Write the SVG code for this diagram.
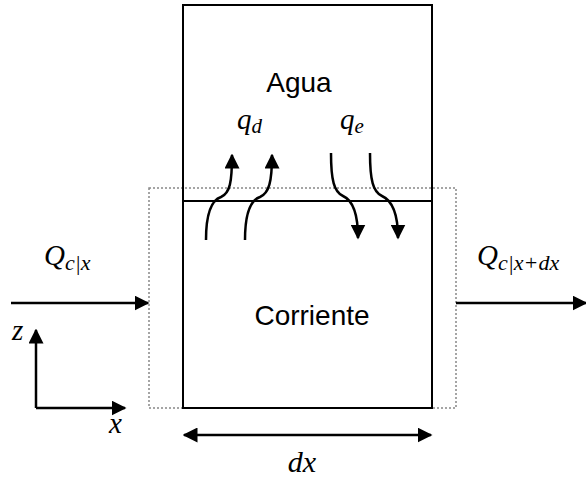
<svg xmlns="http://www.w3.org/2000/svg" width="586" height="481" viewBox="0 0 586 481">
<defs>
<marker id="ahb" viewBox="0 0 10 10" refX="9" refY="5" markerWidth="15" markerHeight="15" markerUnits="userSpaceOnUse" orient="auto-start-reverse">
<path d="M0,0 L10,5 L0,10 z" fill="#000"/>
</marker>
</defs>
<style>
.box{fill:none;stroke:#000;stroke-width:2}
.dot{fill:none;stroke:#888;stroke-width:1.5;stroke-dasharray:2 2}
.ln{fill:none;stroke:#000;stroke-width:2.5;marker-end:url(#ahb)}
.lbl{font-family:"Liberation Sans",Arial,sans-serif;font-size:28px;fill:#000}
.m{font-family:"Liberation Serif","DejaVu Serif",serif;font-style:italic;fill:#000}
</style>
<rect width="586" height="481" fill="#fff"/>
<g id="control-volume">
<rect class="dot" x="149" y="188" width="307" height="220"/>
</g>
<g id="agua">
<rect class="box" x="183" y="5" width="249" height="196"/>
<text class="lbl" x="299" y="92" text-anchor="middle">Agua</text>
</g>
<g id="corriente">
<rect class="box" x="183" y="201" width="249" height="207"/>
<text class="lbl" x="312" y="325" text-anchor="middle">Corriente</text>
</g>
<g id="connectors">
<path class="ln" d="M206,240 C206,212 212,200 221,197 C230,193 232,182 232,155"/>
<path class="ln" d="M245,240 C245,212 251,200 260,197 C269,193 272,182 272,155"/>
<path class="ln" d="M331,153 C331,180 334,192 343,196 C352,200 358,212 358,238"/>
<path class="ln" d="M370,153 C370,180 373,192 382,196 C391,200 398,212 398,238"/>
<line class="ln" x1="11" y1="303" x2="148" y2="303"/>
<line class="ln" x1="456" y1="303" x2="586" y2="303"/>
<path class="ln" d="M36,408 L36,330"/>
<path class="ln" d="M36,408 L125,408"/>
<line class="ln" x1="184" y1="435" x2="431" y2="435" style="marker-start:url(#ahb)"/>
</g>
<g id="labels">
<text class="m" x="237" y="129" font-size="29">q<tspan font-size="21" dy="4">d</tspan></text>
<text class="m" x="340" y="129" font-size="29">q<tspan font-size="21" dy="4">e</tspan></text>
<text class="m" x="44" y="265" font-size="29">Q<tspan font-size="22" dy="5">c|x</tspan></text>
<text class="m" x="477" y="265" font-size="29">Q<tspan font-size="22" dy="5">c|x+dx</tspan></text>
<text class="m" x="12" y="340" font-size="29">z</text>
<text class="m" x="109" y="433" font-size="29">x</text>
<text class="m" x="302" y="472" font-size="30" text-anchor="middle">dx</text>
</g>
</svg>
